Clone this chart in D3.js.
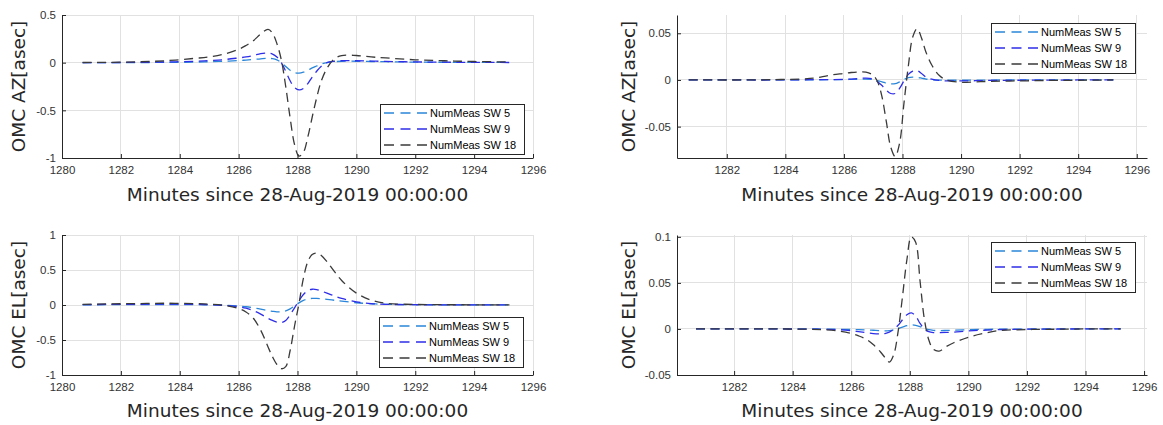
<!DOCTYPE html>
<html>
<head>
<meta charset="utf-8">
<script src="https://cdn.jsdelivr.net/npm/d3@7"></script>
<style>
  body { margin: 0; background: #fff; }
  svg { display: block; }
</style>
</head>
<body>
<svg id="chart" width="1163" height="425"></svg>
<script>
// ---------------- data ----------------
const time = [1280.7,1281.5,1282.5,1283.5,1284.5,1285,1285.5,1286,1286.25,1286.5,1286.75,1287,1287.15,1287.3,1287.45,1287.6,1287.75,1287.9,1288.05,1288.2,1288.35,1288.5,1288.65,1288.8,1289,1289.25,1289.5,1290,1290.5,1291,1292,1293,1294,1295.2];

const seriesNames = ["NumMeas SW 5", "NumMeas SW 9", "NumMeas SW 18"];

// Top-left: OMC AZ
const azLeftSW5  = [0,0,0.001,0.003,0.006,0.01,0.015,0.022,0.027,0.033,0.04,0.045,0.042,0.03,0.0,-0.04,-0.08,-0.105,-0.11,-0.1,-0.08,-0.055,-0.035,-0.015,0.0,0.01,0.015,0.015,0.012,0.01,0.006,0.004,0.003,0.002];
const azLeftSW9  = [0.001,0.001,0.003,0.007,0.015,0.022,0.032,0.05,0.06,0.075,0.095,0.1,0.09,0.06,0.0,-0.09,-0.19,-0.26,-0.285,-0.27,-0.22,-0.15,-0.09,-0.04,0.0,0.015,0.02,0.02,0.017,0.013,0.008,0.005,0.003,0.002];
const azLeftSW18 = [0.002,0.003,0.008,0.02,0.045,0.06,0.09,0.14,0.18,0.23,0.3,0.35,0.31,0.2,0.03,-0.25,-0.58,-0.86,-0.98,-0.94,-0.78,-0.57,-0.37,-0.2,-0.06,0.04,0.075,0.075,0.06,0.05,0.03,0.02,0.012,0.008];

// Top-right: OMC AZ
const azRightSW5  = [0,0,0,0,0.0001,0.0002,0.0003,0.0004,0.0006,0.0008,0.001,0.0005,-0.0008,-0.002,-0.0035,-0.0042,-0.004,-0.002,0.0005,0.0025,0.003,0.0028,0.002,0.001,0.0003,-0.0002,-0.0003,-0.0003,-0.0002,-0.0001,0,0,0,0];
const azRightSW9  = [0,0,0,0,0.0002,0.0003,0.0004,0.0006,0.001,0.0015,0.002,0.001,-0.002,-0.006,-0.011,-0.0145,-0.0145,-0.009,-0.001,0.006,0.0095,0.01,0.007,0.003,0.0008,-0.0005,-0.001,-0.001,-0.0008,-0.0005,-0.0003,-0.0002,0,0];
const azRightSW18 = [0,0,0,0.0003,0.001,0.002,0.005,0.007,0.008,0.0085,0.0083,0.005,-0.002,-0.018,-0.045,-0.072,-0.082,-0.068,-0.025,0.015,0.046,0.055,0.045,0.03,0.016,0.005,0.0,-0.0025,-0.002,-0.0015,-0.001,-0.0005,-0.0003,0];

// Bottom-left: OMC EL
const elLeftSW5  = [0.003,0.004,0.005,0.006,0.005,0.002,-0.003,-0.015,-0.025,-0.04,-0.06,-0.08,-0.09,-0.098,-0.098,-0.085,-0.055,-0.015,0.03,0.065,0.085,0.095,0.095,0.09,0.08,0.068,0.055,0.032,0.018,0.01,0.005,0.003,0.002,0.001];
const elLeftSW9  = [0.005,0.008,0.01,0.012,0.01,0.005,-0.005,-0.025,-0.045,-0.08,-0.13,-0.19,-0.22,-0.245,-0.25,-0.22,-0.14,-0.04,0.06,0.15,0.205,0.225,0.22,0.2,0.17,0.13,0.095,0.045,0.02,0.01,0.004,0.002,0.001,0.001];
const elLeftSW18 = [0.01,0.015,0.02,0.025,0.02,0.012,-0.005,-0.05,-0.1,-0.19,-0.36,-0.6,-0.74,-0.85,-0.91,-0.88,-0.65,-0.3,0.02,0.38,0.62,0.72,0.74,0.71,0.62,0.48,0.35,0.17,0.07,0.025,0.008,0.004,0.003,0.002];

// Bottom-right: OMC EL
const elRightSW5  = [0,0,0,0,0,-0.0001,-0.0003,-0.0006,-0.0008,-0.001,-0.0014,-0.0018,-0.002,-0.0018,-0.001,0.0005,0.002,0.0035,0.0045,0.004,0.0025,0.0005,-0.0008,-0.0015,-0.0018,-0.0016,-0.0013,-0.0008,-0.0005,-0.0003,-0.0001,0,0,0];
const elRightSW9  = [0,0,0,0,-0.0002,-0.0004,-0.0008,-0.002,-0.003,-0.004,-0.005,-0.0054,-0.005,-0.0035,-0.0005,0.004,0.01,0.0155,0.0175,0.014,0.006,0.0,-0.003,-0.004,-0.004,-0.0038,-0.0034,-0.0022,-0.0014,-0.0008,-0.0003,-0.0001,0,0];
const elRightSW18 = [0,0,0,0,-0.0003,-0.0007,-0.002,-0.005,-0.0075,-0.011,-0.017,-0.025,-0.031,-0.036,-0.028,-0.003,0.035,0.075,0.1,0.094,0.052,0.01,-0.012,-0.022,-0.024,-0.019,-0.015,-0.009,-0.005,-0.002,-0.0007,-0.0003,0,0];

// tick values
const xTicks = [1280,1282,1284,1286,1288,1290,1292,1294,1296];
const yTicksAzLeft  = [-1,-0.5,0,0.5];
const yTicksAzRight = [-0.05,0,0.05];
const yTicksElLeft  = [-1,-0.5,0,0.5,1];
const yTicksElRight = [-0.05,0,0.05,0.1];

const xLabel = "Minutes since 28-Aug-2019 00:00:00";

// ---------------- styles / layout ----------------
const seriesColors = ["#2a86da", "#2e2ee8", "#3a3a3a"];

const panels = [
  { yLabel: "OMC AZ[asec]", series: [azLeftSW5, azLeftSW9, azLeftSW18],
    xDomain: [1280, 1296], yDomain: [-1, 0.5], yTicks: yTicksAzLeft,
    left: 62, right: 533, top: 15, bottom: 158, yLabelX: 25, xLabelY: 201, legend: [380, 104] },
  { yLabel: "OMC AZ[asec]", series: [azRightSW5, azRightSW9, azRightSW18],
    xDomain: [1280.3, 1296.35], yDomain: [-0.0836, 0.0696], yTicks: yTicksAzRight,
    left: 677, right: 1147, top: 15, bottom: 158, yLabelX: 635, xLabelY: 201, legend: [991, 23] },
  { yLabel: "OMC EL[asec]", series: [elLeftSW5, elLeftSW9, elLeftSW18],
    xDomain: [1280, 1296], yDomain: [-1, 1], yTicks: yTicksElLeft,
    left: 62, right: 533, top: 235, bottom: 375, yLabelX: 25, xLabelY: 417, legend: [379, 317] },
  { yLabel: "OMC EL[asec]", series: [elRightSW5, elRightSW9, elRightSW18],
    xDomain: [1280.05, 1296.1], yDomain: [-0.05, 0.102], yTicks: yTicksElRight,
    left: 677, right: 1147, top: 235, bottom: 375, yLabelX: 635, xLabelY: 417, legend: [991, 242] }
];

const svg = d3.select("#chart");
const tickFont = "'Liberation Sans', Arial, sans-serif";
const labelFont = "'DejaVu Sans', sans-serif";

panels.forEach((p, pi) => {
  const x = d3.scaleLinear().domain(p.xDomain).range([p.left, p.right]);
  const y = d3.scaleLinear().domain(p.yDomain).range([p.bottom, p.top]);
  const xt = xTicks.filter(v => v >= p.xDomain[0] - 1e-9 && v <= p.xDomain[1] + 1e-9);

  const g = svg.append("g");

  // grid
  g.append("g").selectAll("line").data(xt).join("line")
    .attr("x1", d => x(d)).attr("x2", d => x(d))
    .attr("y1", p.top).attr("y2", p.bottom)
    .attr("stroke", "#e1e1e1").attr("stroke-width", 1).attr("shape-rendering", "crispEdges");
  g.append("g").selectAll("line").data(p.yTicks).join("line")
    .attr("x1", p.left).attr("x2", p.right)
    .attr("y1", d => y(d)).attr("y2", d => y(d))
    .attr("stroke", "#e1e1e1").attr("stroke-width", 1).attr("shape-rendering", "crispEdges");

  // clip
  const clipId = "clip" + pi;
  svg.append("clipPath").attr("id", clipId).append("rect")
    .attr("x", p.left).attr("y", p.top - 1).attr("width", p.right - p.left).attr("height", p.bottom - p.top + 2);

  // lines
  const line = d3.line()
    .x((d, i) => x(time[i]))
    .y(d => y(d))
    .curve(d3.curveCatmullRom.alpha(0.5));
  const lg = g.append("g").attr("clip-path", `url(#${clipId})`);
  p.series.forEach((s, si) => {
    lg.append("path").datum(s)
      .attr("d", line)
      .attr("fill", "none")
      .attr("stroke", seriesColors[si])
      .attr("stroke-width", 1.3)
      .attr("stroke-dasharray", "9,5.5");
  });

  // axes
  const xAxis = d3.axisBottom(x).tickValues(xt).tickSizeInner(-4).tickSizeOuter(0).tickPadding(8)
    .tickFormat(d => String(d));
  const gx = g.append("g").attr("transform", `translate(0,${p.bottom})`).call(xAxis);
  const yAxis = d3.axisLeft(y).tickValues(p.yTicks).tickSizeInner(-4).tickSizeOuter(0).tickPadding(6)
    .tickFormat(d => String(d));
  const gy = g.append("g").attr("transform", `translate(${p.left},0)`).call(yAxis);
  [gx, gy].forEach(a => {
    a.select(".domain").attr("stroke", "#262626");
    a.selectAll(".tick line").attr("stroke", "#262626");
    a.selectAll(".tick text").attr("fill", "#333").style("font-family", tickFont).style("font-size", "11.5px");
  });

  // axis labels
  g.append("text")
    .attr("transform", `translate(${p.yLabelX},${(p.top + p.bottom) / 2}) rotate(-90)`)
    .attr("text-anchor", "middle")
    .style("font-family", labelFont).style("font-size", "18.5px").attr("fill", "#262626")
    .text(p.yLabel);
  g.append("text")
    .attr("x", (p.left + p.right) / 2).attr("y", p.xLabelY)
    .attr("text-anchor", "middle")
    .style("font-family", labelFont).style("font-size", "18.5px").attr("fill", "#262626")
    .text(xLabel);

  // legend
  const [lx, ly] = p.legend;
  const leg = g.append("g");
  leg.append("rect").attr("x", lx + 0.5).attr("y", ly + 0.5).attr("width", 144).attr("height", 50)
    .attr("fill", "#fff").attr("stroke", "#262626").attr("stroke-width", 1);
  const rowY = [9, 25, 41];
  seriesNames.forEach((name, si) => {
    leg.append("line")
      .attr("x1", lx + 4).attr("x2", lx + 47)
      .attr("y1", ly + rowY[si]).attr("y2", ly + rowY[si])
      .attr("stroke", seriesColors[si]).attr("stroke-width", 1.3)
      .attr("stroke-dasharray", "10,6.5");
    leg.append("text")
      .attr("x", lx + 50).attr("y", ly + rowY[si])
      .attr("dominant-baseline", "central")
      .style("font-family", tickFont).style("font-size", "11px").attr("fill", "#000")
      .text(name);
  });
});
</script>
</body>
</html>
